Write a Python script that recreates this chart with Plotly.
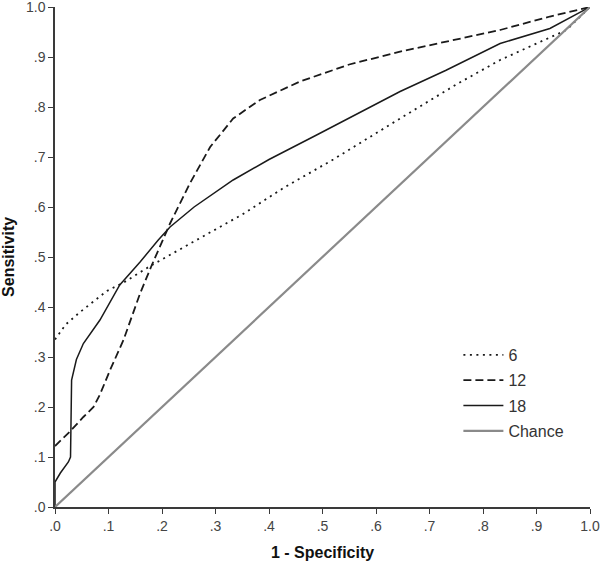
import plotly.graph_objects as go

# ROC curves (x = 1 - specificity, y = sensitivity)
x6 = [0, .02, .047, .07, .097, .13, .178, .258, .35, .427, .52, .645, .75, .832, .894, .956, 1]
y6 = [.335, .365, .39, .41, .432, .45, .482, .53, .585, .638, .695, .777, .845, .894, .924, .954, 1]

x12 = [0, .028, .053, .072, .084, .103, .128, .159, .181, .202, .215, .252, .29, .333, .383, .458,
       .55, .65, .75, .832, .925, 1]
y12 = [.122, .151, .18, .2, .225, .274, .334, .427, .484, .534, .567, .647, .72, .777, .814, .851,
       .885, .912, .935, .954, .981, 1]

x18 = [0, 0, .01, .025, .029, .031, .04, .053, .084, .121, .159, .193, .215, .26, .333, .4, .489,
       .57, .645, .73, .832, .925, 1]
y18 = [0, .05, .068, .09, .1, .254, .295, .327, .374, .444, .49, .534, .56, .6, .654, .695, .744,
       .79, .831, .873, .927, .957, 1]

x_chance = [0, 1]
y_chance = [0, 1]

ticks = [0, .1, .2, .3, .4, .5, .6, .7, .8, .9, 1.0]
tick_labels = [".0", ".1", ".2", ".3", ".4", ".5", ".6", ".7", ".8", ".9", "1.0"]

FONT = "Liberation Sans, Arial, sans-serif"
AX = "#3a3a3a"

fig = go.Figure()
fig.add_trace(go.Scatter(x=x6, y=y6, name="6", mode="lines", legendgroup="g6",
                         line=dict(color="#1a1a1a", width=1.8, dash="2px,4.5px")))
fig.add_trace(go.Scatter(x=x12, y=y12, name="12", mode="lines", legendgroup="g12",
                         line=dict(color="#1a1a1a", width=1.8, dash="8px,4px")))
fig.add_trace(go.Scatter(x=x18, y=y18, name="18", mode="lines", legendgroup="g18",
                         line=dict(color="#1a1a1a", width=1.5)))
fig.add_trace(go.Scatter(x=x_chance, y=y_chance, name="Chance", mode="lines", legendgroup="gc",
                         line=dict(color="#8a8a8a", width=2.2)))

axis_common = dict(
    range=[0, 1], tickvals=ticks, ticktext=tick_labels, automargin=False,
    showgrid=False, zeroline=False, showline=True, linecolor=AX, linewidth=1.5,
    ticks="outside", ticklen=5, tickwidth=1.2, tickcolor=AX, ticklabeloverflow="allow",
    tickfont=dict(size=14, color="#444444", family=FONT),
)
fig.update_xaxes(**axis_common)
fig.update_yaxes(**axis_common)

# axis titles as annotations so their place is fixed
fig.add_annotation(text="<b>1 - Specificity</b>", xref="paper", yref="paper", x=0.5, y=-0.09,
                   xanchor="center", yanchor="middle", showarrow=False,
                   font=dict(size=16, color="#111111", family=FONT))
fig.add_annotation(text="<b>Sensitivity</b>", xref="paper", yref="paper", x=-0.088, y=0.5,
                   xanchor="center", yanchor="middle", textangle=-90, showarrow=False,
                   font=dict(size=16, color="#111111", family=FONT))

fig.update_layout(
    width=601, height=564,
    margin=dict(l=55, r=11, t=7, b=57),
    paper_bgcolor="white", plot_bgcolor="white",
    font=dict(family=FONT, color="#333333"),
    legend=dict(x=0.754, y=0.338, xanchor="left", yanchor="top",
                bgcolor="rgba(0,0,0,0)", itemwidth=40, tracegroupgap=1.5,
                font=dict(size=16, color="#333333", family=FONT)),
)

# drop the page's default body margin so the figure sits at the window's corner
fig.write_html("out.html", config={"displayModeBar": False},
               post_script="document.body.style.margin='0';")
